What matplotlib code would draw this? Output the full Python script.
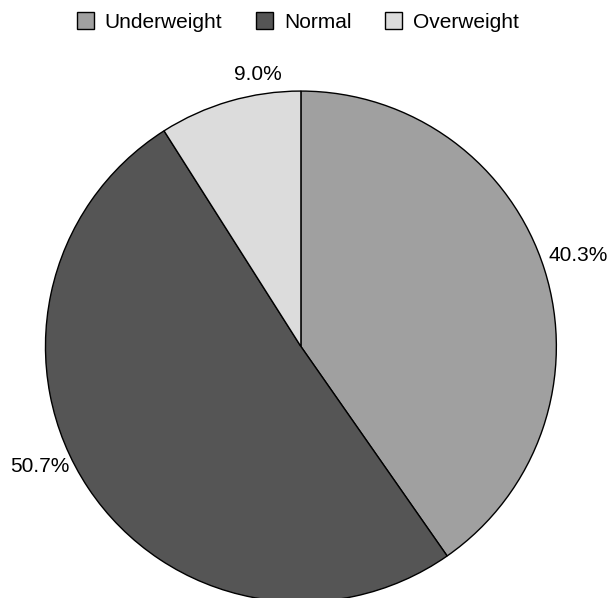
import matplotlib.pyplot as plt
from matplotlib.patches import Patch

# Data
categories = ["Underweight", "Normal", "Overweight"]
shares = [40.3, 50.7, 9.0]
colors = ["#a0a0a0", "#555555", "#dcdcdc"]

plt.rcParams['font.family'] = ['Liberation Sans', 'DejaVu Sans']

fig = plt.figure(figsize=(6.10, 5.98), dpi=100)
ax = fig.add_axes([0, 0, 1, 1])

wedges, texts, autotexts = ax.pie(
    shares, colors=colors, startangle=90, counterclock=False,
    autopct='%.1f%%', pctdistance=1.13,
    wedgeprops=dict(edgecolor='black', linewidth=1.0),
    textprops=dict(fontsize=15, color='black'))

# nudge labels to where the reference puts them
label_pos = [(1.087, 0.358, 'center'), (-1.139, -0.468, 'left'), (-0.168, 1.063, 'center')]
for t, (x, y, ha) in zip(autotexts, label_pos):
    t.set_position((x, y))
    t.set_ha(ha)
    t.set_va('center')

ax.set_aspect('equal')
ax.set_xlim(-1.178, 1.210)
ax.set_ylim(-0.984, 1.356)
ax.axis('off')

handles = [Patch(facecolor=c, edgecolor='black', linewidth=1.0) for c in colors]
fig.legend(handles, categories, loc='center', bbox_to_anchor=(0.488, 1 - 22 / 598),
           ncol=3, frameon=False, fontsize=15, handlelength=0.82,
           handleheight=0.82, handletextpad=0.53, columnspacing=1.6,
           borderpad=0, borderaxespad=0)

fig.savefig("out.png", dpi=100)
